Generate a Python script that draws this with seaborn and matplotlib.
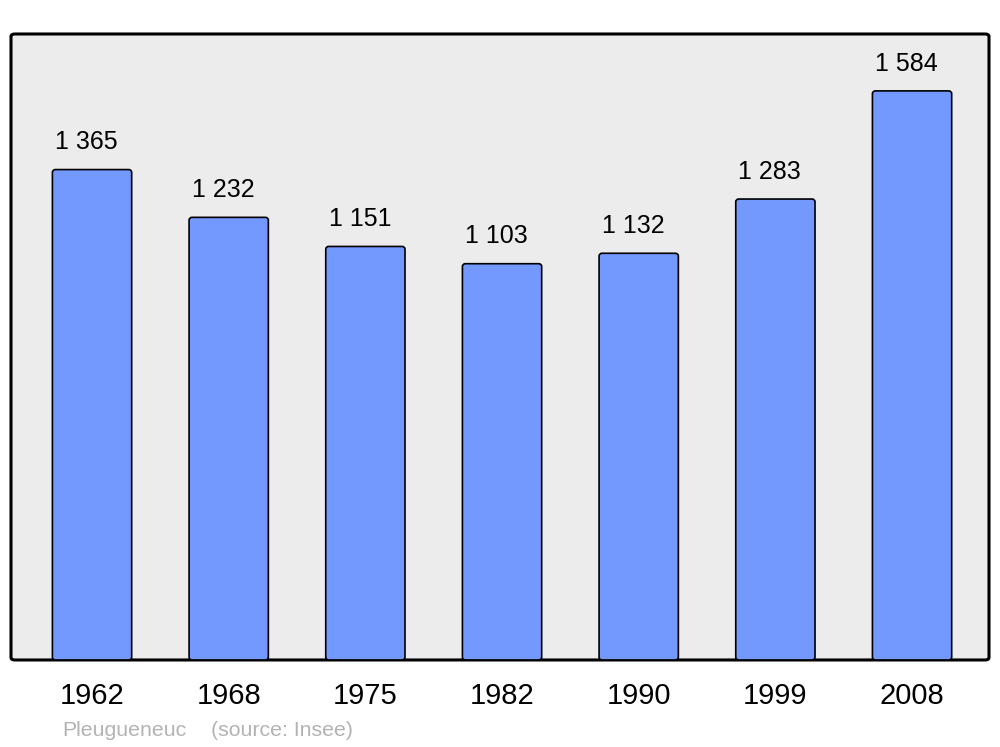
import matplotlib
matplotlib.use("Agg")
from matplotlib import pyplot as plt
from matplotlib.patches import FancyBboxPatch
import seaborn as sns
import pandas as pd

years = ["1962", "1968", "1975", "1982", "1990", "1999", "2008"]
population = [1365, 1232, 1151, 1103, 1132, 1283, 1584]
value_labels = ["1 365", "1 232", "1 151", "1 103", "1 132", "1 283", "1 584"]
commune = "Pleugueneuc"
source = "(source: Insee)"

df = pd.DataFrame({"Year": years, "Population": population})

sns.set_style("white")
plt.rcParams["font.family"] = ["Liberation Sans", "DejaVu Sans"]

fig = plt.figure(figsize=(10, 7.47), dpi=100)
ax = fig.add_axes([0.011, 0.1165, 0.978, 0.838])
ax.set_facecolor("none")

# rounded background frame
frame = FancyBboxPatch((0, 0), 1, 1, boxstyle="round,pad=0,rounding_size=0.004",
                       transform=ax.transAxes, facecolor="#ececec", edgecolor="black",
                       linewidth=2.2, zorder=0, clip_on=False)
ax.add_patch(frame)

sns.barplot(data=df, x="Year", y="Population", color="#7399ff", width=0.58,
            saturation=1, edgecolor="black", linewidth=1.2, ax=ax, zorder=2)

# swap bars for slightly rounded ones
for p in list(ax.patches):
    if p is frame:
        continue
    x, y = p.get_x(), p.get_y()
    w, h = p.get_width(), p.get_height()
    rb = FancyBboxPatch((x, y), w, h, boxstyle="round,pad=0,rounding_size=0.022",
                        mutation_aspect=364, facecolor="#7399ff", edgecolor="black",
                        linewidth=1.2, zorder=2)
    p.set_visible(False)
    ax.add_patch(rb)

for i, (v, lab) in enumerate(zip(population, value_labels)):
    ax.annotate(lab, (i, v), xytext=(-4, 11), textcoords="offset points",
                ha="center", va="bottom", fontsize=18, color="black")

ax.set_xlim(-0.593, 6.563)
ax.set_ylim(0, max(population) * 1.1)
for s in ax.spines.values():
    s.set_visible(False)
ax.set_yticks([])
ax.tick_params(axis="x", length=0, pad=16, labelsize=21, labelcolor="black")
ax.set_xlabel("")
ax.set_ylabel("")

fig.text(0.062, 0.009, commune, fontsize=15.3, color="#b3b3b3", ha="left", va="bottom")
fig.text(0.211, 0.009, source, fontsize=15.3, color="#b3b3b3", ha="left", va="bottom")

plt.savefig("out.png", dpi=100)
